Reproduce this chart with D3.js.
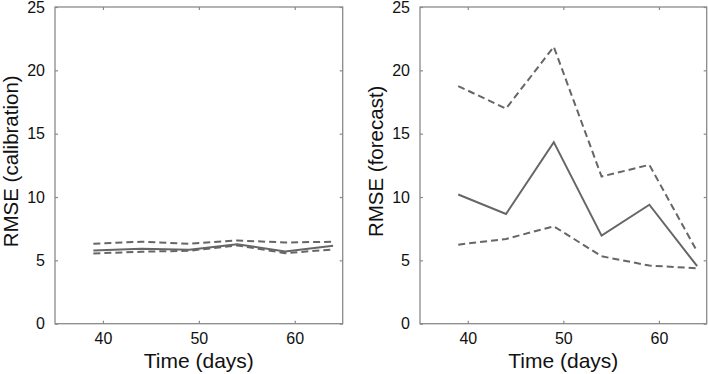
<!DOCTYPE html>
<html>
<head>
<meta charset="utf-8">
<script src="https://cdn.jsdelivr.net/npm/d3@7"></script>
<style>
  html, body { margin: 0; padding: 0; background: #fff; }
  svg { display: block; }
  text { font-family: "Liberation Sans", Arial, Helvetica, sans-serif; fill: #111; }
</style>
</head>
<body>
<svg id="chart" width="708" height="374"></svg>
<script>
// ---- data ----
const days = [39, 44, 49, 54, 59, 64];
const xTicks = [40, 50, 60];
const yTicks = [0, 5, 10, 15, 20, 25];

const calibMean  = [5.78, 5.91, 5.84, 6.28, 5.70, 6.15];
const calibUpper = [6.31, 6.47, 6.31, 6.57, 6.41, 6.47];
const calibLower = [5.55, 5.68, 5.76, 6.18, 5.57, 5.86];

const fcMean  = [10.2, 8.66, 14.33, 6.95, 9.39, 4.54];
const fcUpper = [18.76, 16.98, 21.86, 11.62, 12.54, 5.7];
const fcLower = [6.24, 6.69, 7.69, 5.32, 4.59, 4.38];

const panels = [
  { label: "RMSE (calibration)", left: 55, right: 342.7, mean: calibMean, upper: calibUpper, lower: calibLower },
  { label: "RMSE (forecast)",    left: 420, right: 706.7, mean: fcMean,    upper: fcUpper,    lower: fcLower }
];

const svg = d3.select("#chart");
const plotTop = 7, plotBottom = 323.7;
const axisColor = "#8a8a8a";
const lineColor = "#666";

panels.forEach(p => {
  const x = d3.scaleLinear().domain([35, 65]).range([p.left, p.right]);
  const y = d3.scaleLinear().domain([0, 25]).range([plotBottom, plotTop]);
  const g = svg.append("g");

  g.append("rect")
    .attr("x", p.left).attr("y", plotTop)
    .attr("width", p.right - p.left).attr("height", plotBottom - plotTop)
    .attr("fill", "none").attr("stroke", axisColor).attr("stroke-width", 1.3);

  const xb = g.append("g").attr("transform", `translate(0,${plotBottom})`)
    .call(d3.axisBottom(x).tickValues(xTicks).tickSize(-3).tickPadding(9).tickFormat(d3.format("d")));
  const xt = g.append("g").attr("transform", `translate(0,${plotTop})`)
    .call(d3.axisTop(x).tickValues(xTicks).tickSize(-3).tickFormat(""));
  const yl = g.append("g").attr("transform", `translate(${p.left},0)`)
    .call(d3.axisLeft(y).tickValues(yTicks).tickSize(-3).tickPadding(10).tickFormat(d3.format("d")));
  const yr = g.append("g").attr("transform", `translate(${p.right},0)`)
    .call(d3.axisRight(y).tickValues(yTicks).tickSize(-3).tickFormat(""));

  [xb, xt, yl, yr].forEach(a => {
    a.select(".domain").remove();
    a.selectAll(".tick line").attr("stroke", axisColor).attr("stroke-width", 1.2);
    a.selectAll(".tick text").style("font-size", "16px").attr("fill", "#111")
      .style("font-family", '"Liberation Sans", Arial, sans-serif');
  });

  const line = d3.line().x((d, i) => x(days[i])).y(d => y(d));

  g.append("path").datum(p.upper).attr("d", line)
    .attr("fill", "none").attr("stroke", lineColor).attr("stroke-width", 2)
    .attr("stroke-dasharray", "7,4");
  g.append("path").datum(p.lower).attr("d", line)
    .attr("fill", "none").attr("stroke", lineColor).attr("stroke-width", 2)
    .attr("stroke-dasharray", "7,4");
  g.append("path").datum(p.mean).attr("d", line)
    .attr("fill", "none").attr("stroke", lineColor).attr("stroke-width", 2);

  g.append("text")
    .attr("x", (p.left + p.right) / 2).attr("y", 368)
    .attr("text-anchor", "middle").style("font-size", "21px")
    .text("Time (days)");
  g.append("text")
    .attr("transform", `translate(${p.left - 37},${(plotTop + plotBottom) / 2 - 4}) rotate(-90)`)
    .attr("text-anchor", "middle").style("font-size", "20.5px")
    .text(p.label);
});
</script>
</body>
</html>
